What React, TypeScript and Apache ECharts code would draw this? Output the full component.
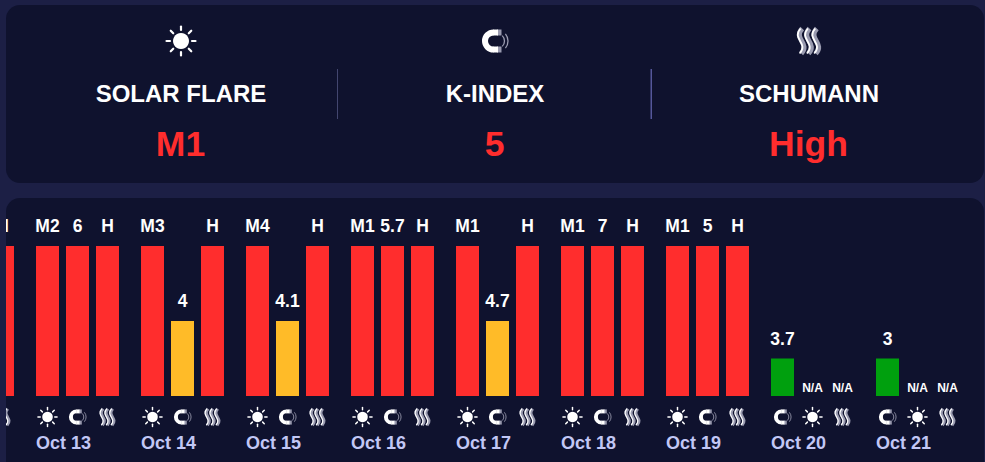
import React, { useEffect, useRef } from "react";
import * as echarts from "echarts";

const days = ["", "Oct 13", "Oct 14", "Oct 15", "Oct 16", "Oct 17", "Oct 18", "Oct 19", "Oct 20", "Oct 21"];
// Bar height level per slot (1 low, 2 medium, 4 high, 0 not available); null = out of view
const slot1 = [null, 4, 4, 4, 4, 4, 4, 4, 1, 1];
const slot2 = [null, 4, 2, 2, 4, 2, 4, 4, 0, 0];
const slot3 = [4, 4, 4, 4, 4, 4, 4, 4, 0, 0];
const labels1 = ["", "M2", "M3", "M4", "M1", "M1", "M1", "M1", "3.7", "3"];
const labels2 = ["", "6", "4", "4.1", "5.7", "4.7", "7", "5", "N/A", "N/A"];
const labels3 = ["H", "H", "H", "H", "H", "H", "H", "H", "N/A", "N/A"];
const slotIcons = [
  ["sun", "magnet", "waves"], ["sun", "magnet", "waves"], ["sun", "magnet", "waves"],
  ["sun", "magnet", "waves"], ["sun", "magnet", "waves"], ["sun", "magnet", "waves"],
  ["sun", "magnet", "waves"], ["sun", "magnet", "waves"],
  ["magnet", "sun", "waves"], ["magnet", "sun", "waves"],
];
const headerTitles = ["SOLAR FLARE", "K-INDEX", "SCHUMANN"];
const headerValues = ["M1", "5", "High"];
const headerIcons = ["sun", "magnet", "waves"];

const BG = "#1c1f45";
const PANEL = "#0f122e";
const RED = "#ff2d2d";
const levelColor: Record<number, string> = { 0: "#00a00e", 1: "#00a00e", 2: "#ffbb28", 4: RED };
const FONT = "'Liberation Sans', Arial, sans-serif";

function iconChildren(kind: string): any[] {
  if (kind === "sun") {
    const rays: any[] = [];
    for (let i = 0; i < 8; i++) {
      const a = (i * Math.PI) / 4;
      rays.push({
        type: "line",
        shape: { x1: 11 * Math.cos(a), y1: 11 * Math.sin(a), x2: 14.5 * Math.cos(a), y2: 14.5 * Math.sin(a) },
        style: { stroke: "#fff", lineWidth: 2.2, lineCap: "round" },
        silent: true,
      });
    }
    return [{ type: "circle", shape: { cx: 0, cy: 0, r: 8 }, style: { fill: "#fff" }, silent: true }, ...rays];
  }
  if (kind === "magnet") {
    return [
      { type: "line", shape: { x1: 2, y1: -8.5, x2: 6.5, y2: -8.5 }, style: { stroke: "#9a9bb0", lineWidth: 6 }, silent: true },
      { type: "line", shape: { x1: 2, y1: 8.5, x2: 6.5, y2: 8.5 }, style: { stroke: "#9a9bb0", lineWidth: 6 }, silent: true },
      { type: "arc", shape: { cx: -1.5, cy: 0, r: 8.5, startAngle: Math.PI / 2, endAngle: (3 * Math.PI) / 2, clockwise: true }, style: { stroke: "#fff", lineWidth: 6, fill: "none" }, silent: true },
      { type: "line", shape: { x1: -2, y1: -8.5, x2: 3, y2: -8.5 }, style: { stroke: "#fff", lineWidth: 6 }, silent: true },
      { type: "line", shape: { x1: -2, y1: 8.5, x2: 3, y2: 8.5 }, style: { stroke: "#fff", lineWidth: 6 }, silent: true },
      { type: "arc", shape: { cx: 2, cy: 0, r: 7.5, startAngle: -0.8, endAngle: 0.8, clockwise: true }, style: { stroke: "#9a9bb0", lineWidth: 1.3, fill: "none" }, silent: true },
      { type: "arc", shape: { cx: 2, cy: 0, r: 11, startAngle: -0.7, endAngle: 0.7, clockwise: true }, style: { stroke: "#9a9bb0", lineWidth: 1.3, fill: "none" }, silent: true },
    ];
  }
  const out: any[] = [];
  [-7.3, 0, 7.3].forEach((dx) => {
    const s = { x1: dx + 0.5, y1: -12.5, cpx1: dx - 9, cpy1: -2, cpx2: dx + 9, cpy2: 2, x2: dx - 0.5, y2: 12.5 };
    out.push({ type: "bezierCurve", shape: s, style: { stroke: "#9a9bb0", lineWidth: 5, fill: "none" }, silent: true });
    out.push({
      type: "bezierCurve",
      shape: { ...s, x1: s.x1 - 1.6, cpx1: s.cpx1 - 1.6, cpx2: s.cpx2 - 1.6, x2: s.x2 - 1.6 },
      style: { stroke: "#fff", lineWidth: 1.8, fill: "none" },
      silent: true,
    });
  });
  return out;
}

function barSeries(values: (number | null)[], texts: string[]) {
  return {
    type: "bar",
    barWidth: 23,
    barGap: "30.4%",
    data: values.map((v, i) => ({
      value: v,
      itemStyle: { color: levelColor[v ?? 0] },
      label: {
        show: v !== null,
        position: "top",
        formatter: texts[i],
        color: "#fff",
        fontFamily: FONT,
        fontWeight: "bold",
        fontSize: v === 0 ? 12 : 17.5,
        distance: v === 0 ? 2 : 11,
      },
    })),
  };
}

export default function App() {
  const ref = useRef<HTMLDivElement>(null);
  useEffect(() => {
    const chart = echarts.init(ref.current!, null, { renderer: "svg" });
    const centers = [181, 495, 809];
    const graphic: any[] = [
      { type: "rect", z: -1, shape: { x: 6, y: 5, width: 978, height: 178, r: 14 }, style: { fill: PANEL } },
      { type: "rect", z: -1, shape: { x: 6, y: 198, width: 978, height: 290, r: 14 }, style: { fill: PANEL } },
      { type: "rect", z: 0, shape: { x: 337, y: 69, width: 1, height: 50 }, style: { fill: "#43466f" } },
      { type: "rect", z: 0, shape: { x: 650.5, y: 69, width: 1.5, height: 50 }, style: { fill: "#55579a" } },
      { type: "rect", z: 100, shape: { x: 0, y: 190, width: 6, height: 272 }, style: { fill: BG } },
    ];
    centers.forEach((cx, i) => {
      graphic.push({ type: "group", x: cx, y: 41, children: iconChildren(headerIcons[i]), z: 5 });
      graphic.push({
        type: "text", x: cx, y: 93, z: 5,
        style: { text: headerTitles[i], fill: "#fff", font: `bold 24px ${FONT}`, align: "center", verticalAlign: "middle" },
      });
      graphic.push({
        type: "text", x: cx - 0.5, y: 143.5, z: 5,
        style: { text: headerValues[i], fill: "#ff2d2d", font: `bold 35.5px ${FONT}`, align: "center", verticalAlign: "middle" },
      });
    });
    chart.setOption({
      animation: false,
      backgroundColor: BG,
      grid: { left: -80, top: 246, width: 1050, height: 150, containLabel: false, outerBoundsMode: "none" },
      xAxis: {
        type: "category",
        data: days,
        axisLine: { show: false },
        axisTick: { show: false },
        axisLabel: {
          interval: 0,
          margin: 38,
          color: "#c2c7f5",
          fontFamily: FONT,
          fontWeight: "bold",
          fontSize: 18,
          align: "center",
          padding: [0, 28, 0, 0],
        },
      },
      yAxis: { type: "value", min: 0, max: 4, show: false, splitLine: { show: false } },
      graphic,
      series: [
        barSeries(slot1, labels1),
        barSeries(slot2, labels2),
        barSeries(slot3, labels3),
        {
          type: "custom",
          clip: false,
          silent: true,
          data: days.map((_, i) => [i, 0]),
          renderItem: (_p: any, api: any) => {
            const idx = api.value(0);
            const [x, y] = api.coord([idx, 0]);
            return {
              type: "group",
              children: slotIcons[idx].map((k, s) => ({
                type: "group",
                x: x + (s - 1) * 30,
                y: y + 21,
                scaleX: 0.66,
                scaleY: 0.66,
                children: iconChildren(k),
              })),
            };
          },
        },
      ],
    });
    return () => chart.dispose();
  }, []);
  return <div ref={ref} style={{ position: "absolute", left: 0, top: 0, width: 985, height: 462 }} />;
}
